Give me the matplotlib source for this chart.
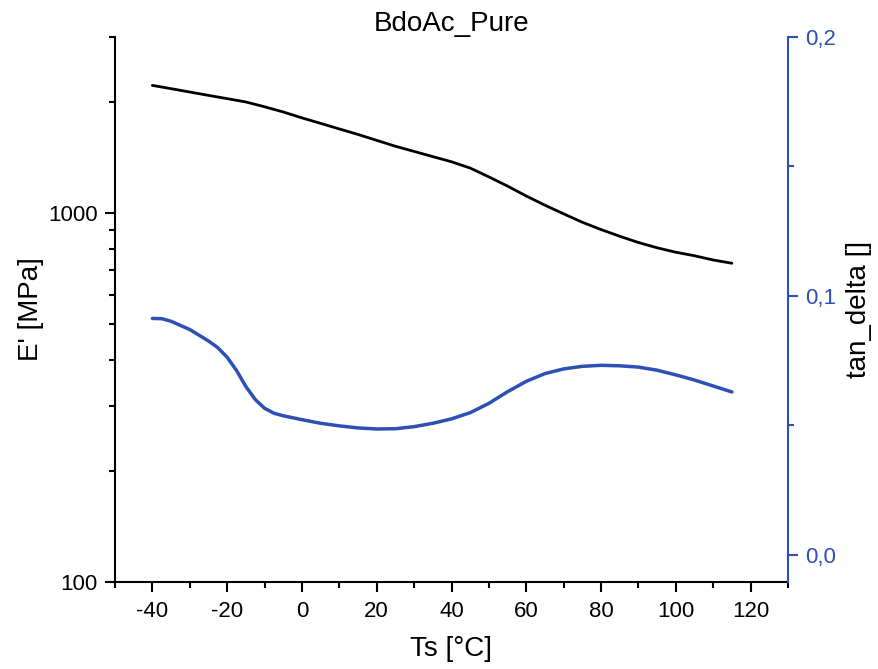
import matplotlib
matplotlib.use("Agg")
import matplotlib.pyplot as plt
from matplotlib.ticker import FixedLocator, MultipleLocator, FuncFormatter, NullFormatter

plt.rcParams['font.family'] = ['Liberation Sans', 'DejaVu Sans']
plt.rcParams['axes.unicode_minus'] = False

# Storage modulus E' [MPa] vs. temperature
temp_e = [-40, -35, -30, -25, -20, -15, -10, -5, 0, 5, 10, 15, 20, 25, 30, 35,
          40, 45, 50, 55, 60, 65, 70, 75, 80, 85, 90, 95, 100, 105, 110, 115]
e_storage = [2218, 2173, 2128, 2084, 2042, 2000, 1941, 1879, 1811, 1750, 1690,
             1633, 1574, 1517, 1469, 1422, 1377, 1324, 1253, 1183, 1112, 1050,
             995, 944, 902, 865, 832, 805, 783, 766, 746, 731]

# Loss factor tan delta vs. temperature
temp_tan = [-40, -37.5, -35, -30, -25, -22.5, -20, -17.5, -15, -12.5, -10, -7.5,
            -5, 0, 5, 10, 15, 20, 25, 30, 35, 40, 45, 50, 55, 60, 65, 70, 75,
            80, 85, 90, 95, 100, 105, 110, 115]
tan_delta = [0.0913, 0.0912, 0.0902, 0.0870, 0.0826, 0.0800, 0.0763, 0.0712,
             0.0650, 0.0600, 0.0566, 0.0547, 0.0537, 0.0522, 0.0508, 0.0498,
             0.0490, 0.0486, 0.0487, 0.0495, 0.0508, 0.0525, 0.0549, 0.0585,
             0.0630, 0.0670, 0.0700, 0.0718, 0.0728, 0.0732, 0.0730, 0.0725,
             0.0713, 0.0695, 0.0675, 0.0652, 0.0629]

x_major = [-40, -20, 0, 20, 40, 60, 80, 100, 120]
e_major = [100, 1000]
e_minor = [200, 300, 400, 500, 600, 700, 800, 900, 2000, 3000]
tan_major = [0.0, 0.1, 0.2]
tan_minor = [0.05, 0.15]

blue = "#2E4FB4"
lw_axis = 1.5
tick_fs = 16

fig = plt.figure(figsize=(8.79, 6.69), dpi=100)
ax = fig.add_axes([115 / 879, 1 - 582 / 669, (788 - 115) / 879, (582 - 37) / 669])

ax.plot(temp_e, e_storage, color="black", lw=2.0, solid_capstyle="round")
ax.set_yscale("log")
ax.set_xlim(-50, 130)
ax.set_ylim(100, 3000)

ax.xaxis.set_major_locator(FixedLocator(x_major))
ax.xaxis.set_minor_locator(MultipleLocator(10))
ax.yaxis.set_major_locator(FixedLocator(e_major))
ax.yaxis.set_minor_locator(FixedLocator(e_minor))
ax.yaxis.set_major_formatter(FuncFormatter(lambda v, p: f"{int(round(v))}"))
ax.yaxis.set_minor_formatter(NullFormatter())

for side in ("top", "right"):
    ax.spines[side].set_visible(False)
for side in ("left", "bottom"):
    ax.spines[side].set_linewidth(lw_axis)

ax.tick_params(which="major", direction="out", length=7.5, width=lw_axis,
               labelsize=tick_fs, pad=5)
ax.tick_params(which="minor", direction="out", length=4, width=lw_axis)
ax.tick_params(axis="x", which="major", pad=6)

ax.set_xlabel("Ts [°C]", fontsize=20, labelpad=10)
ax.set_ylabel("E' [MPa]", fontsize=20, labelpad=3)
ax.set_title("BdoAc_Pure", fontsize=20, pad=4)

ax2 = ax.twinx()
ax2.plot(temp_tan, tan_delta, color=blue, lw=2.5, solid_capstyle="round")
ax2.set_ylim(-0.0105, 0.2)
ax2.yaxis.set_major_locator(FixedLocator(tan_major))
ax2.yaxis.set_minor_locator(FixedLocator(tan_minor))
ax2.yaxis.set_major_formatter(FuncFormatter(lambda v, p: f"{v:.1f}".replace(".", ",")))
for side in ("top", "left", "bottom"):
    ax2.spines[side].set_visible(False)
ax2.spines["right"].set_color(blue)
ax2.spines["right"].set_linewidth(lw_axis)
ax2.tick_params(which="major", direction="out", length=7.5, width=lw_axis,
                color=blue, labelcolor=blue, labelsize=tick_fs, pad=5)
ax2.tick_params(which="minor", direction="out", length=4, width=lw_axis, color=blue)
ax2.set_ylabel("tan_delta []", fontsize=20, labelpad=7)

fig.savefig("out.png", dpi=100, facecolor="white")
